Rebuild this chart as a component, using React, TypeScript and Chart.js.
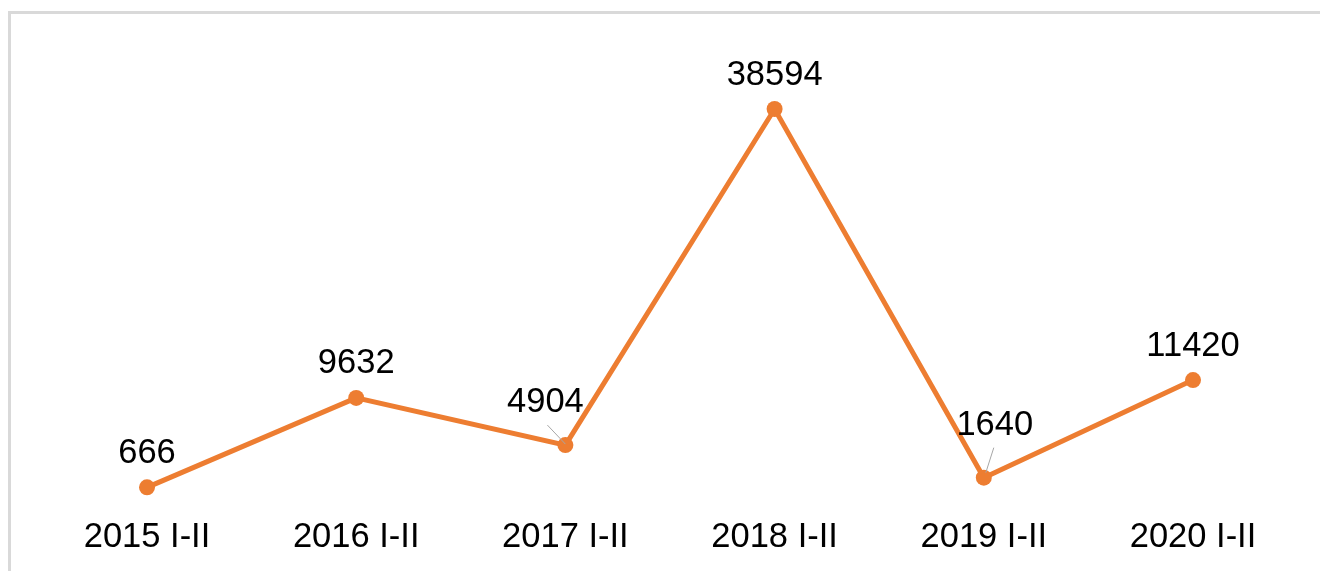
import React, { useEffect, useRef } from "react";
import { Chart, registerables } from "chart.js";

Chart.register(...registerables);

const categories = ["2015 I-II", "2016 I-II", "2017 I-II", "2018 I-II", "2019 I-II", "2020 I-II"];
const values = [666, 9632, 4904, 38594, 1640, 11420];

const ORANGE = "#ED7D31";
const FONT = "'Liberation Sans', Arial, sans-serif";

const labelPlugin = {
  id: "pointLabels",
  afterDatasetsDraw(chart: any) {
    const ctx = chart.ctx;
    const meta = chart.getDatasetMeta(0);
    const data = chart.data.datasets[0].data as number[];
    const special: Record<number, { dx: number; dy: number; lx1: number; ly1: number; lx2: number; ly2: number }> = {
      2: { dx: -20, dy: -42.5, lx1: -18, ly1: -20, lx2: 0, ly2: -1 },
      4: { dx: 11, dy: -52.5, lx1: 10, ly1: -30, lx2: 2, ly2: -5 },
    };
    ctx.save();
    meta.data.forEach((pt: any, i: number) => {
      const s = special[i];
      let cx = pt.x;
      let cy = pt.y - 34;
      if (s) {
        cx = pt.x + s.dx;
        cy = pt.y + s.dy;
        ctx.beginPath();
        ctx.strokeStyle = "#A6A6A6";
        ctx.lineWidth = 1;
        ctx.moveTo(pt.x + s.lx1, pt.y + s.ly1);
        ctx.lineTo(pt.x + s.lx2, pt.y + s.ly2);
        ctx.stroke();
      }
      ctx.fillStyle = "#000000";
      ctx.font = `34.5px ${FONT}`;
      ctx.textAlign = "center";
      ctx.textBaseline = "middle";
      ctx.fillText(String(data[i]), cx, cy);
    });
    ctx.restore();
  },
};

export default function App() {
  const ref = useRef<HTMLCanvasElement | null>(null);

  useEffect(() => {
    if (!ref.current) return;
    const chart = new Chart(ref.current, {
      type: "line",
      data: {
        labels: categories,
        datasets: [
          {
            data: values,
            borderColor: ORANGE,
            backgroundColor: ORANGE,
            borderWidth: 5,
            pointRadius: 8,
            pointHoverRadius: 8,
            pointBackgroundColor: ORANGE,
            pointBorderWidth: 0,
            tension: 0,
            fill: false,
            clip: false,
          },
        ],
      },
      options: {
        animation: false,
        responsive: false,
        devicePixelRatio: 1,
        layout: { padding: { left: 42.4, right: 22.4, top: 95, bottom: 8.6 } },
        plugins: {
          legend: { display: false },
          tooltip: { enabled: false },
          title: { display: false },
        },
        scales: {
          x: {
            offset: true,
            grid: { display: false, drawTicks: false },
            border: { display: false },
            ticks: {
              color: "#000000",
              font: { family: FONT, size: 34.5 },
              padding: 23,
              maxRotation: 0,
              autoSkip: false,
            },
          },
          y: {
            display: false,
            min: 0,
            max: 40000,
          },
        },
      },
      plugins: [labelPlugin],
    });
    return () => chart.destroy();
  }, []);

  return (
    <div>
      <div
        style={{
          position: "fixed",
          left: 8,
          top: 11,
          width: 1400,
          height: 700,
          border: "3px solid #d9d9d9",
          boxSizing: "border-box",
          background: "#fff",
        }}
      />
      <canvas
        ref={ref}
        width={1320}
        height={590}
        style={{ position: "fixed", left: 0, top: 0, width: 1320, height: 590 }}
      />
    </div>
  );
}
